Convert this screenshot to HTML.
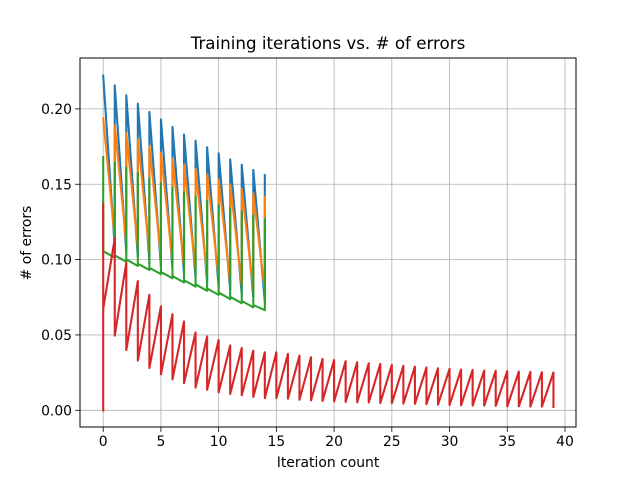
<!DOCTYPE html>
<html><head><meta charset="utf-8"><style>
html,body{margin:0;padding:0;background:#fff;}
svg{display:block;font-family:"DejaVu Sans","Liberation Sans",sans-serif;}
</style></head><body>
<svg id="chart" width="640" height="480" viewBox="0 0 640 480"></svg>
<script>
const xTicks=[0,5,10,15,20,25,30,35,40];
const yTicks=[0.00,0.05,0.10,0.15,0.20];
const yTickLabels=["0.00","0.05","0.10","0.15","0.20"];
const blueHigh=[0.222,0.2156,0.209,0.2035,0.198,0.193,0.188,0.183,0.179,0.1745,0.1705,0.1665,0.163,0.1595,0.156];
const blueLow=[0,0.108,0.105,0.102,0.099,0.096,0.094,0.091,0.088,0.085,0.082,0.080,0.077,0.075,0.072];
const orangeHigh=[0.1937,0.189,0.184,0.18,0.1755,0.171,0.167,0.163,0.16,0.1567,0.1533,0.150,0.147,0.144,0.1417];
const orangeLow=[0,0.114,0.111,0.108,0.105,0.102,0.099,0.096,0.093,0.090,0.088,0.085,0.083,0.080,0.079];
const greenHigh=[0.168,0.1646,0.161,0.1575,0.154,0.1507,0.148,0.1447,0.142,0.139,0.1364,0.134,0.1318,0.1293,0.127];
const greenStart=[0.1056,0.1028,0.1001,0.0973,0.0946,0.0918,0.0891,0.0863,0.0836,0.0808,0.0781,0.0753,0.0726,0.0698,0.0665];
const greenEnd=[0,0.1013,0.0986,0.0958,0.0931,0.0903,0.0876,0.0848,0.0821,0.0793,0.0766,0.0738,0.0711,0.0683,0.0665];
const redTop=[0.137,0.114,0.098,0.0858,0.0766,0.069,0.0638,0.059,0.0517,0.049,0.0467,0.043,0.0414,0.0396,0.0385,0.0385,0.0374,0.0363,0.0352,0.0341,0.0334,0.0326,0.0319,0.0312,0.0308,0.0301,0.0295,0.029,0.0284,0.0279,0.0275,0.0271,0.0268,0.0264,0.0262,0.026,0.0257,0.0255,0.0253,0.0251];
const redLow=[0.0673,0.0495,0.040,0.033,0.028,0.0238,0.0205,0.018,0.015,0.0136,0.0119,0.0108,0.0099,0.0088,0.0081,0.0081,0.0077,0.007,0.0066,0.0062,0.0059,0.0055,0.0053,0.0051,0.0048,0.0046,0.0044,0.0042,0.004,0.0037,0.0035,0.0033,0.0031,0.0031,0.0029,0.0026,0.0026,0.0024,0.0024,0.0022];

const NS="http://www.w3.org/2000/svg";
const svg=document.getElementById('chart');
const L=80,R=576,T=58,B=427;
function X(v){return 103.2+v*11.545;}
function Y(v){return 410.3-v*1507;}
function mk(tag,attrs,parent){const e=document.createElementNS(NS,tag);for(const k in attrs)e.setAttribute(k,attrs[k]);(parent||svg).appendChild(e);return e;}

const grid=mk('g',{});


xTicks.forEach(t=>{const l=mk('line',{x1:X(t),x2:X(t),y1:T,y2:B,stroke:'#b0b0b0','stroke-width':0.8},grid);

});
yTicks.forEach(t=>{const l=mk('line',{x1:L,x2:R,y1:Y(t),y2:Y(t),stroke:'#b0b0b0','stroke-width':0.8},grid);

});

function series(pts,color,name){
  const d=pts.map((p,i)=>(i?'L':'M')+X(p[0]).toFixed(2)+' '+Y(p[1]).toFixed(2)).join(' ');
  const p=mk('path',{d:d,fill:'none',stroke:color,'stroke-width':2.1,'stroke-linejoin':'round','stroke-linecap':'square'});
  
  
}
let pb=[[0,blueHigh[0]]];
for(let i=1;i<blueHigh.length;i++){pb.push([i,blueLow[i]]);pb.push([i,blueHigh[i]]);}
series(pb,'#1f77b4','series-blue');
let po=[[0,orangeHigh[0]]];
for(let i=1;i<orangeHigh.length;i++){po.push([i,orangeLow[i]]);po.push([i,orangeHigh[i]]);}
series(po,'#ff7f0e','series-orange');
let pg=[[0,greenHigh[0]],[0,greenStart[0]]];
for(let i=1;i<greenHigh.length;i++){pg.push([i,greenEnd[i]]);pg.push([i,greenHigh[i]]);pg.push([i,greenStart[i]]);}
series(pg,'#2ca02c','series-green');
let pr=[[0,0],[0,redTop[0]],[0,redLow[0]]];
for(let i=1;i<redTop.length;i++){pr.push([i,redTop[i]]);pr.push([i,redLow[i]]);}
series(pr,'#d62728','series-red');

const frame=mk('rect',{x:L,y:T,width:R-L,height:B-T,fill:'none',stroke:'#000','stroke-width':1});



xTicks.forEach(t=>{
  const l=mk('line',{x1:X(t),x2:X(t),y1:B,y2:B+4.9,stroke:'#000','stroke-width':0.8});
  
  
  const tx=mk('text',{x:X(t),y:B+19,'text-anchor':'middle','font-size':'13.9px',fill:'#000'});
  tx.textContent=String(t);
  
  
});
yTicks.forEach((t,i)=>{
  const l=mk('line',{x1:L-4.9,x2:L,y1:Y(t),y2:Y(t),stroke:'#000','stroke-width':0.8});
  
  
  const tx=mk('text',{x:L-8,y:Y(t)+5,'text-anchor':'end','font-size':'13.9px',fill:'#000'});
  tx.textContent=yTickLabels[i];
  
  
});
const title=mk('text',{x:328,y:49,'text-anchor':'middle','font-size':'16.7px',fill:'#000'});
title.textContent='Training iterations vs. # of errors';


const xt=mk('text',{x:328,y:467,'text-anchor':'middle','font-size':'13.9px',fill:'#000'});
xt.textContent='Iteration count';


const yt=mk('text',{x:0,y:0,'text-anchor':'middle','font-size':'13.9px',fill:'#000',transform:'translate(31,243) rotate(-90)'});
yt.textContent='# of errors';


</script>
</body></html>
